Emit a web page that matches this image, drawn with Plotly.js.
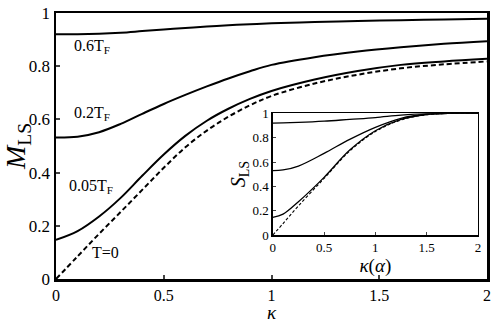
<!DOCTYPE html>
<html>
<head>
<meta charset="utf-8">
<script src="https://cdn.plot.ly/plotly-3.0.1.min.js"></script>
<style>html,body{margin:0;padding:0;background:#fff;}</style>
</head>
<body>
<div id="chart" style="width:498px;height:325px;"></div>
<script>
// main panel: M_LS vs kappa
const kappa = [0, 0.1, 0.2, 0.3, 0.4, 0.5, 0.6, 0.7, 0.8, 0.9, 1.0, 1.2, 1.4, 1.6, 1.8, 2.0];
const m06 = [0.920, 0.920, 0.922, 0.926, 0.932, 0.938, 0.944, 0.949, 0.954, 0.958, 0.961, 0.966, 0.970, 0.973, 0.976, 0.978];
const m02 = [0.532, 0.535, 0.552, 0.583, 0.621, 0.658, 0.692, 0.724, 0.754, 0.781, 0.805, 0.834, 0.855, 0.871, 0.884, 0.894];
const m005 = [0.147, 0.180, 0.235, 0.305, 0.388, 0.468, 0.538, 0.595, 0.640, 0.677, 0.707, 0.750, 0.782, 0.805, 0.818, 0.828];
const m0 = [0, 0.085, 0.170, 0.252, 0.335, 0.418, 0.495, 0.558, 0.610, 0.653, 0.688, 0.735, 0.768, 0.792, 0.807, 0.818];

// inset: S_LS vs kappa(alpha)
const kappaIn = [0, 0.1, 0.25, 0.5, 0.75, 1.0, 1.25, 1.5, 1.75, 2.0];
const s06 = [0.920, 0.921, 0.925, 0.935, 0.950, 0.965, 0.985, 0.997, 1, 1];
const s02 = [0.530, 0.535, 0.567, 0.671, 0.786, 0.885, 0.959, 0.992, 1, 1];
const s005 = [0.145, 0.172, 0.274, 0.474, 0.698, 0.857, 0.950, 0.990, 1, 1];
const s0 = [0, 0.095, 0.240, 0.465, 0.690, 0.850, 0.945, 0.988, 1, 1];

const labels = ['0.6T<sub>F</sub>', '0.2T<sub>F</sub>', '0.05T<sub>F</sub>', 'T=0'];
const labelPos = [[0.075, 0.873], [0.075, 0.623], [0.052, 0.347], [0.16, 0.10]];

const serif = "'Liberation Serif', 'Times New Roman', serif";

function line(x, y, xa, ya, w, dash) {
    return {
        x: x, y: y, xaxis: xa, yaxis: ya, type: 'scatter', mode: 'lines',
        line: { color: '#000', width: w, dash: dash || 'solid', shape: 'spline', smoothing: 1 },
        hoverinfo: 'skip', showlegend: false
    };
}

const traces = [
    line(kappa, m06, 'x', 'y', 2),
    line(kappa, m02, 'x', 'y', 2),
    line(kappa, m005, 'x', 'y', 2),
    line(kappa, m0, 'x', 'y', 2, '5px,3px'),
    line(kappaIn, s06, 'x2', 'y2', 1.3),
    line(kappaIn, s02, 'x2', 'y2', 1.3),
    line(kappaIn, s005, 'x2', 'y2', 1.3),
    line(kappaIn, s0, 'x2', 'y2', 1.1, '3px,2px')
];

const annotations = labels.map(function (t, i) {
    return {
        text: t, xref: 'x', yref: 'y', x: labelPos[i][0], y: labelPos[i][1],
        xanchor: 'left', yanchor: 'middle', showarrow: false,
        font: { family: serif, size: 16, color: '#000' }
    };
});
// main x-axis title placed by hand so it clears the tick labels
annotations.push({
    text: '<i>κ</i>', xref: 'paper', yref: 'paper', x: 0.5, y: -0.166,
    xanchor: 'center', yanchor: 'bottom', height: 18, valign: 'middle', showarrow: false,
    font: { family: serif, size: 19, color: '#000' }
});

const layout = {
    width: 498, height: 325,
    margin: { l: 56, r: 11, t: 13, b: 46 },
    paper_bgcolor: '#fff', plot_bgcolor: '#fff',
    font: { family: serif, color: '#000' },
    xaxis: {
        domain: [0, 1], range: [0, 2], tickvals: [0, 0.5, 1, 1.5, 2], ticktext: ['0', '0.5', '1', '1.5', '2'],
        showgrid: false, zeroline: false, showline: true, linewidth: 2.5, linecolor: '#000', mirror: true,
        ticks: 'inside', ticklen: 4, tickwidth: 2, tickfont: { family: serif, size: 16 }
    },
    yaxis: {
        domain: [0, 1], range: [0, 1], tickvals: [0, 0.2, 0.4, 0.6, 0.8, 1], ticktext: ['0', '0.2', '0.4', '0.6', '0.8', '1'],
        showgrid: false, zeroline: false, showline: true, linewidth: 2.5, linecolor: '#000', mirror: true,
        ticks: 'inside', ticklen: 4, tickwidth: 2, tickfont: { family: serif, size: 17 },
        title: { text: '<i>M</i><sub>LS</sub>', font: { family: serif, size: 28 }, standoff: 0 }
    },
    xaxis2: {
        domain: [0.503, 0.979], range: [0, 2], anchor: 'y2',
        tickvals: [0, 0.5, 1, 1.5, 2], ticktext: ['0', '0.5', '1', '1.5', '2'],
        showgrid: false, zeroline: false, showline: true, linewidth: 1.5, linecolor: '#000', mirror: true,
        ticks: 'inside', ticklen: 3, tickwidth: 1, tickfont: { family: serif, size: 13 },
        title: { text: '<i>κ</i>(<i>α</i>)', font: { family: serif, size: 19 }, standoff: 0 }
    },
    yaxis2: {
        domain: [0.165, 0.623], range: [0, 1], anchor: 'x2',
        tickvals: [0, 0.2, 0.4, 0.6, 0.8, 1], ticktext: ['0', '0.2', '0.4', '0.6', '0.8', '1'],
        showgrid: false, zeroline: false, showline: true, linewidth: 1.5, linecolor: '#000', mirror: true,
        ticks: 'inside', ticklen: 3, tickwidth: 1, tickfont: { family: serif, size: 13 },
        title: { text: '<i>S</i><sub>LS</sub>', font: { family: serif, size: 20 }, standoff: 0 }
    },
    annotations: annotations
};

Plotly.newPlot('chart', traces, layout, { displayModeBar: false, staticPlot: true });
</script>
</body>
</html>
